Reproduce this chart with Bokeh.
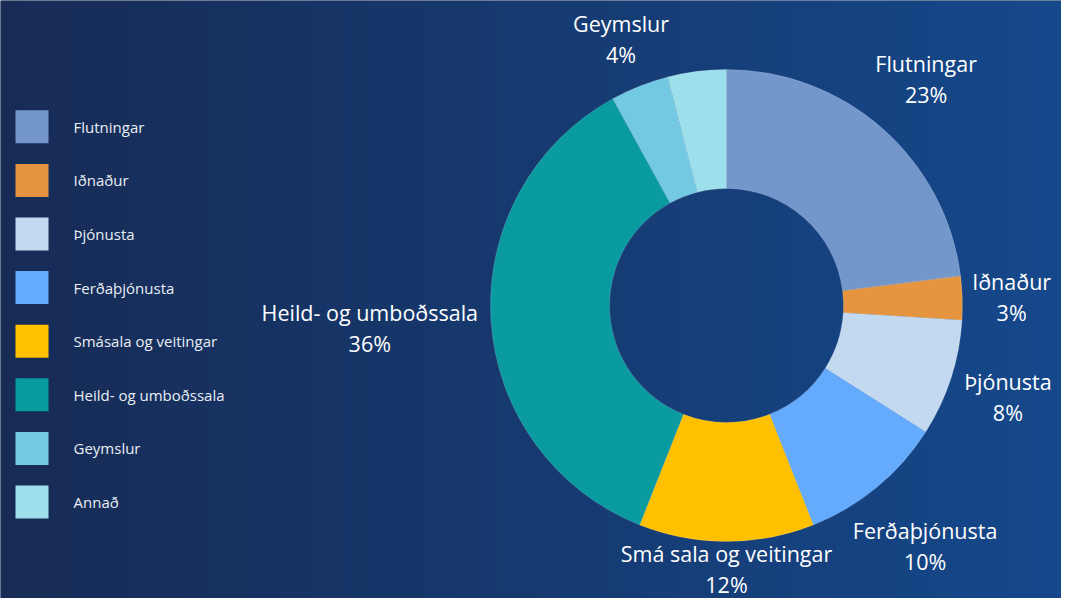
import numpy as np
from bokeh.plotting import figure
from bokeh.models import Range1d, ColumnDataSource
from bokeh.core.properties import value
from bokeh.embed import file_html
from bokeh.resources import INLINE

# ---------------- data ----------------
legend_names = ["Flutningar", "Iðnaður", "Þjónusta", "Ferðaþjónusta",
                "Smásala og veitingar", "Heild- og umboðssala", "Geymslur", "Annað"]
label_names = ["Flutningar", "Iðnaður", "Þjónusta", "Ferðaþjónusta",
               "Smá sala og veitingar", "Heild- og umboðssala", "Geymslur", ""]
shares = [23, 3, 8, 10, 12, 36, 4, 4]
colors = ["#7397cb", "#e5953f", "#c3d9f0", "#64aafd",
          "#ffc000", "#0a9ba1", "#74c9e2", "#9ddfea"]

# ---------------- layout ----------------
W, H = 1061, 598
CX, CY = 726, H - 305          # donut centre (y up)
R_OUT, R_IN = 236, 117
GAP = 10
HALF_H = 26
FONT = "Open Sans"
LBL_SIZE = "21.5px"
LINE_SP = 31
CHAR_W = 11.0

p = figure(width=W, height=H, output_backend="svg", toolbar_location=None,
           x_range=Range1d(0, W), y_range=Range1d(0, H), min_border=0)
p.axis.visible = False
p.grid.visible = False
p.outline_line_color = None
p.background_fill_color = "#172b55"
p.border_fill_color = "#172b55"

# background gradient (left dark navy -> right blue)
nx = 512
t = np.linspace(0, 1, nx)
c0 = np.array([0x17, 0x2b, 0x55], dtype=float)
c1 = np.array([0x15, 0x48, 0x8b], dtype=float)
row = (c0[None, :] * (1 - t)[:, None] + c1[None, :] * t[:, None]).round().astype(np.uint8)
img = np.empty((2, nx), dtype=np.uint32)
view = img.view(dtype=np.uint8).reshape((2, nx, 4))
view[:, :, 0] = row[:, 0]
view[:, :, 1] = row[:, 1]
view[:, :, 2] = row[:, 2]
view[:, :, 3] = 255
p.image_rgba(image=[img], x=0, y=0, dw=W, dh=H)

# donut
total = float(sum(shares))
frac = np.array(shares) / total
cum_end = np.cumsum(frac)
cum_start = cum_end - frac
start_ang = np.pi / 2 - cum_start * 2 * np.pi
end_ang = np.pi / 2 - cum_end * 2 * np.pi
src = ColumnDataSource(dict(start=start_ang, end=end_ang, color=colors))
p.annular_wedge(x=CX, y=CY, inner_radius=R_IN, outer_radius=R_OUT,
                start_angle="start", end_angle="end", direction="clock",
                fill_color="color", line_color="#ffffff", line_alpha=0.25,
                line_width=0.6, source=src)

# data labels placed just outside the ring (box touching a circle of R_OUT+GAP)
mid = (cum_start + cum_end) / 2 * 2 * np.pi
nx_l, ny_l, px_l, py_l, nt, pt = [], [], [], [], [], []
for name, s, th in zip(label_names, shares, mid):
    if not name:
        continue
    pct = f"{s}%"
    w = max(len(name), len(pct)) * CHAR_W
    ux, uy = np.sin(th), np.cos(th)
    sup = abs(ux) * w / 2 + abs(uy) * HALF_H
    rc = R_OUT + GAP + sup
    x = CX + rc * ux
    y = CY + rc * uy
    y = min(max(y, 14 + LINE_SP / 2), H - 14 - LINE_SP / 2)
    nx_l.append(x); ny_l.append(y + LINE_SP / 2); nt.append(name)
    px_l.append(x); py_l.append(y - LINE_SP / 2); pt.append(pct)

p.text(x=nx_l, y=ny_l, text=nt, text_font=value(FONT),
       text_font_size=LBL_SIZE, text_color="#ffffff",
       text_align="center", text_baseline="middle")
p.text(x=px_l, y=py_l, text=pt, text_font=value(FONT),
       text_font_size=LBL_SIZE, text_color="#ffffff",
       text_align="center", text_baseline="middle")

# legend (left column)
LEG_X, LEG_Y0, LEG_DY, SQ = 31.5, 126.3, 53.6, 33
ly = [H - (LEG_Y0 + i * LEG_DY) for i in range(len(legend_names))]
p.rect(x=[LEG_X] * len(ly), y=ly, width=SQ, height=SQ, fill_color=colors,
       line_color=None)
p.text(x=[73] * len(ly), y=ly, text=legend_names, text_font=value(FONT),
       text_font_size="15px", text_color="#e9eef6",
       text_align="left", text_baseline="middle")

open("out.html", "w").write(file_html(p, INLINE))
